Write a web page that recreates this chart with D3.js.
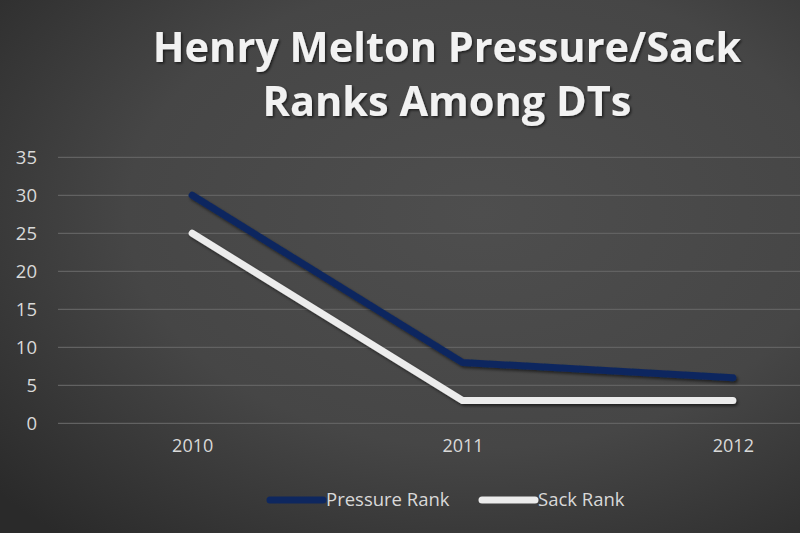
<!DOCTYPE html>
<html><head><meta charset="utf-8">
<script src="https://cdn.jsdelivr.net/npm/d3@7"></script>
<style>html,body{margin:0;padding:0;background:#3a3a3a;}svg{display:block;}</style>
</head><body><div id="chart"></div>
<script>
const categories = ["2010", "2011", "2012"];
const pressureRank = [30, 8, 6];
const sackRank = [25, 3, 3];
const yTicks = [0, 5, 10, 15, 20, 25, 30, 35];
const titleLines = ["Henry Melton Pressure/Sack", "Ranks Among DTs"];
const seriesNames = ["Pressure Rank", "Sack Rank"];
const seriesColors = ["#0e275f", "#ececec"];

const W = 800, H = 533;
const svg = d3.select("#chart").append("svg").attr("width", W).attr("height", H);
const defs = svg.append("defs");
const grad = defs.append("radialGradient").attr("id", "bg").attr("cx", "60%").attr("cy", "40%").attr("r", "80%");
grad.append("stop").attr("offset", "0%").attr("stop-color", "#4e4e4e");
grad.append("stop").attr("offset", "55%").attr("stop-color", "#464646");
grad.append("stop").attr("offset", "100%").attr("stop-color", "#2a2a2a");
const sh = defs.append("filter").attr("id", "sh").attr("x", "-10%").attr("y", "-20%").attr("width", "120%").attr("height", "160%");
sh.append("feDropShadow").attr("dx", 1.5).attr("dy", 2).attr("stdDeviation", 1.5).attr("flood-color", "#000").attr("flood-opacity", 0.55);
const tsh = defs.append("filter").attr("id", "tsh");
tsh.append("feDropShadow").attr("dx", 1.5).attr("dy", 1.5).attr("stdDeviation", 1).attr("flood-color", "#000").attr("flood-opacity", 0.6);

svg.append("rect").attr("width", W).attr("height", H).attr("fill", "url(#bg)");

const x = d3.scalePoint().domain(categories).range([57, 868]).padding(0.5);
const y = d3.scaleLinear().domain([0, 35]).range([423.3, 157.3]);

// gridlines
svg.append("g").selectAll("line").data(yTicks).join("line")
  .attr("x1", 58).attr("x2", W).attr("y1", d => y(d)).attr("y2", d => y(d))
  .attr("stroke", "#626262").attr("stroke-width", 1.2);

// y axis labels
const yAxis = d3.axisLeft(y).tickValues(yTicks).tickSize(0).tickPadding(0);
const gy = svg.append("g").attr("transform", "translate(37,0)").call(yAxis);
gy.select(".domain").remove();
gy.selectAll("text").attr("fill", "#d9d9d9").attr("font-family", "Open Sans, sans-serif").attr("font-size", 18.5).attr("dy", "0.35em");

// x axis labels
const xAxis = d3.axisBottom(x).tickSize(0).tickPadding(0);
const gx = svg.append("g").attr("transform", "translate(0,439)").call(xAxis);
gx.select(".domain").remove();
gx.selectAll("text").attr("fill", "#d9d9d9").attr("font-family", "Open Sans, sans-serif").attr("font-size", 18);

// lines
const line = d3.line().x((d, i) => x(categories[i])).y(d => y(d));
[pressureRank, sackRank].forEach((vals, k) => {
  svg.append("path").datum(vals).attr("d", line)
    .attr("fill", "none").attr("stroke", seriesColors[k]).attr("stroke-width", 7)
    .attr("stroke-linecap", "round").attr("stroke-linejoin", "round").attr("filter", "url(#sh)");
});

// title
svg.append("g").selectAll("text").data(titleLines).join("text")
  .attr("x", 447).attr("y", (d, i) => 62 + i * 54)
  .attr("text-anchor", "middle").attr("fill", "#f2f2f2")
  .attr("font-family", "Open Sans, sans-serif").attr("font-weight", "bold").attr("font-size", 41.5)
  .attr("filter", "url(#tsh)").text(d => d);

// legend
const legendX = [270, 482];
const lg = svg.append("g").selectAll("g").data(seriesNames).join("g")
  .attr("transform", (d, i) => `translate(${legendX[i]},500)`);
lg.append("line").attr("x1", 0).attr("x2", 53).attr("y1", 0).attr("y2", 0)
  .attr("stroke", (d, i) => seriesColors[i]).attr("stroke-width", 7).attr("stroke-linecap", "round");
lg.append("text").attr("x", 56).attr("y", 0).attr("dy", "0.35em")
  .attr("fill", "#d9d9d9").attr("font-family", "Open Sans, sans-serif").attr("font-size", 18.5).text(d => d);
</script>
</body></html>
